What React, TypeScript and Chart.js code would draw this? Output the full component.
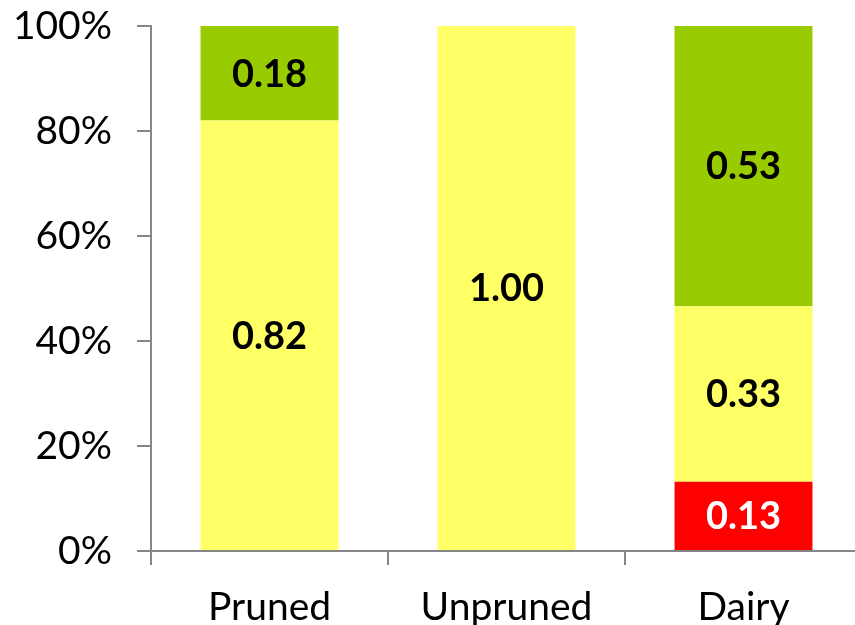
import React, { useEffect, useRef } from "react";
import { Chart, registerables } from "chart.js";

Chart.register(...registerables);

const categories = ["Pruned", "Unpruned", "Dairy"];
const redValues = [0, 0, 0.132];
const yellowValues = [0.82, 1.0, 0.334];
const greenValues = [0.18, 0, 0.534];
const yTicks = [0, 0.2, 0.4, 0.6, 0.8, 1.0];

const AXIS = "#868686";
const FONT = "Lato, 'Open Sans', sans-serif";

const labelPlugin = {
  id: "segLabels",
  afterDatasetsDraw(chart: any) {
    const ctx = chart.ctx;
    ctx.save();
    ctx.font = `bold 38px ${FONT}`;
    ctx.textAlign = "center";
    ctx.textBaseline = "middle";
    chart.data.datasets.forEach((ds: any, i: number) => {
      const meta = chart.getDatasetMeta(i);
      meta.data.forEach((bar: any, j: number) => {
        const v = ds.data[j];
        if (!v) return;
        ctx.fillStyle = ds.labelColor || "#000";
        ctx.fillText(v.toFixed(2), bar.x, (bar.y + bar.base) / 2 + 1);
      });
    });
    ctx.restore();
  },
};

export default function App() {
  const ref = useRef<HTMLCanvasElement>(null);
  useEffect(() => {
    if (!ref.current) return;
    const chart = new Chart(ref.current, {
      type: "bar",
      data: {
        labels: categories,
        datasets: [
          { label: "Red", data: redValues, backgroundColor: "#FF0000", labelColor: "#FFFFFF" } as any,
          { label: "Yellow", data: yellowValues, backgroundColor: "#FFFF66", labelColor: "#000000" } as any,
          { label: "Green", data: greenValues, backgroundColor: "#99CC00", labelColor: "#000000" } as any,
        ],
      },
      options: {
        responsive: false,
        animation: false,
        devicePixelRatio: 1,
        layout: { padding: { top: 26, left: 0, right: 0, bottom: 0 } },
        datasets: { bar: { barPercentage: 0.582, categoryPercentage: 1 } },
        plugins: { legend: { display: false }, tooltip: { enabled: false } },
        scales: {
          x: {
            stacked: true,
            border: { display: true, color: AXIS, width: 2 },
            grid: { display: true, drawOnChartArea: false, drawTicks: true, tickLength: 14, color: AXIS, lineWidth: 2 },
            ticks: { color: "#000", font: { family: FONT, size: 39 }, padding: 19, maxRotation: 0 },
            afterFit: (s: any) => { s.height = 74; s.paddingLeft = 0; s.paddingRight = 0; },
          },
          y: {
            stacked: true,
            min: 0,
            max: 1,
            border: { display: true, color: AXIS, width: 2 },
            grid: { display: true, drawOnChartArea: false, drawTicks: true, tickLength: 14, color: AXIS, lineWidth: 2 },
            afterBuildTicks: (s: any) => { s.ticks = yTicks.map((v) => ({ value: v })); },
            ticks: {
              color: "#000",
              font: { family: FONT, size: 39 },
              padding: 25,
              callback: (v: any) => Math.round(Number(v) * 100) + "%",
            },
            afterFit: (s: any) => { s.width = 151; s.paddingTop = 0; s.paddingBottom = 0; },
          },
        },
      },
      plugins: [labelPlugin],
    });
    return () => chart.destroy();
  }, []);
  return (
    <div style={{ position: "absolute", left: 0, top: 0, width: 855, height: 625, overflow: "hidden", background: "#fff" }}>
      <canvas ref={ref} width={862} height={625} style={{ display: "block" }} />
    </div>
  );
}
